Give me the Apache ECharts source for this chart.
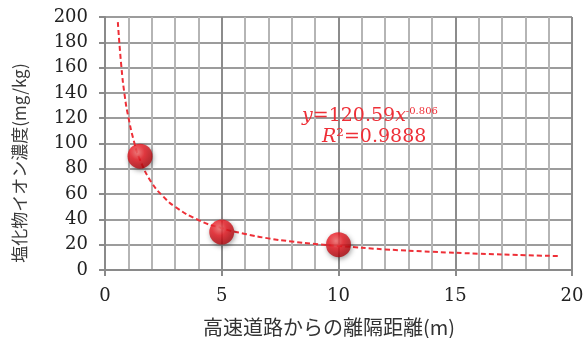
<!DOCTYPE html>
<html>
<head>
<meta charset="utf-8">
<script src="https://cdn.jsdelivr.net/npm/echarts@6/dist/echarts.min.js"></script>
<style>
  html, body { margin: 0; padding: 0; background: #fff; }
  #chart { width: 584px; height: 338px; }
</style>
</head>
<body>
<div id="chart"></div>
<script>
// measured points (distance m, chloride mg/kg)
const distances = [1.5, 5, 10];
const chloride = [90, 30, 20];

// power trend line
const trendX = [0.55, 0.7, 0.85, 1, 1.25, 1.5, 2, 2.5, 3, 4, 5, 6, 7, 8, 9, 10, 12, 14, 16, 18, 19.5];
const trendY = [196, 161, 137, 121, 101, 87, 69, 58, 50, 39.5, 33, 28.5, 25, 22.5, 20.5, 19, 16.3, 14.4, 12.9, 11.7, 11];

const xTitle = '高速道路からの離隔距離(m)';
const yTitle = '塩化物イオン濃度(mg/kg)';

const serif = '"DejaVu Serif", "Liberation Serif", serif';
const jp = '"Noto Sans CJK JP", sans-serif';
const red = '#ee2f37';

let chart = echarts.init(document.getElementById('chart'), null, { renderer: 'canvas' });

let option = {
    animation: false,
    backgroundColor: '#fff',
    grid: { left: 105, right: 12, top: 17, bottom: 68, outerBoundsMode: 'none', containLabel: false },
    xAxis: {
        type: 'value',
        min: 0, max: 20, interval: 5,
        name: xTitle,
        nameLocation: 'middle',
        nameGap: 47,
        nameTextStyle: { fontFamily: jp, fontSize: 20, color: '#333', padding: [0, 19, 0, 0] },
        axisLine: { show: true, lineStyle: { color: '#8a8a8a', width: 2 } },
        axisTick: { show: true, length: 6, lineStyle: { color: '#8a8a8a', width: 2 } },
        axisLabel: { margin: 17, fontFamily: serif, fontSize: 18, color: '#222' },
        splitLine: { show: true, lineStyle: { color: '#8c8c8c', width: 2 } },
        minorSplitLine: { show: true, lineStyle: { color: '#b5b5b5', width: 2 } },
        minorTick: { show: false, splitNumber: 5 }
    },
    yAxis: {
        type: 'value',
        min: 0, max: 200, interval: 20,
        axisLine: { show: true, lineStyle: { color: '#8a8a8a', width: 2 } },
        axisTick: { show: true, length: 6, lineStyle: { color: '#8a8a8a', width: 2 } },
        axisLabel: { margin: 17, fontFamily: serif, fontSize: 18, color: '#222' },
        splitLine: { show: true, lineStyle: { color: '#9c9c9c', width: 2 } }
    },
    series: [
        {
            type: 'line',
            data: trendX.map((x, i) => [x, trendY[i]]),
            smooth: true,
            showSymbol: false,
            silent: true,
            z: 2,
            lineStyle: { color: red, width: 2, type: [5, 3] }
        },
        {
            type: 'scatter',
            data: distances.map((x, i) => [x, chloride[i]]),
            symbolSize: 25,
            z: 3,
            itemStyle: {
                color: {
                    type: 'radial', x: 0.4, y: 0.35, r: 0.65,
                    colorStops: [
                        { offset: 0, color: '#ff7373' },
                        { offset: 0.45, color: '#ee1c25' },
                        { offset: 1, color: '#b0090f' }
                    ]
                },
                shadowBlur: 5,
                shadowColor: 'rgba(0,0,0,0.45)',
                shadowOffsetX: 1,
                shadowOffsetY: 2
            }
        }
    ],
    graphic: [
        {
            // y axis title, rotated
            type: 'text',
            x: 20, y: 163,
            rotation: Math.PI / 2,
            z: 10,
            style: {
                text: yTitle,
                fontFamily: jp, fontSize: 17, fill: '#3a3a3a',
                align: 'center', verticalAlign: 'middle'
            }
        },
        {
            type: 'text',
            left: 302, top: 106,
            z: 10,
            style: {
                text: '{i|y}{n|=120.59}{i|x}{s|-0.806}',
                rich: {
                    i: { fontFamily: serif, fontSize: 19, fontStyle: 'italic', fill: red, verticalAlign: 'bottom' },
                    n: { fontFamily: serif, fontSize: 19, fill: red, verticalAlign: 'bottom' },
                    s: { fontFamily: serif, fontSize: 10, fill: red, verticalAlign: 'top', padding: [0, 0, 10, 0] }
                }
            }
        },
        {
            type: 'text',
            left: 322, top: 128,
            z: 10,
            style: {
                text: '{i|R}{n|²=0.9888}',
                rich: {
                    i: { fontFamily: serif, fontSize: 19, fontStyle: 'italic', fill: red },
                    n: { fontFamily: serif, fontSize: 19, fill: red }
                }
            }
        }
    ]
};

chart.setOption(option);
</script>
</body>
</html>
